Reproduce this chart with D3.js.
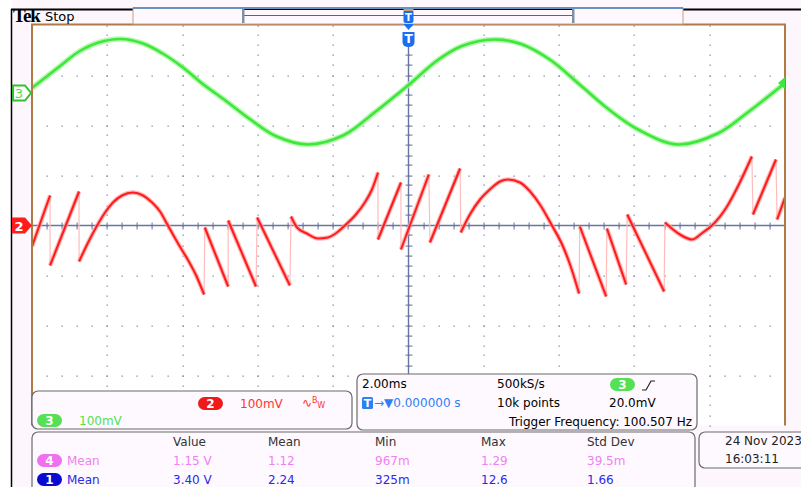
<!DOCTYPE html>
<html>
<head>
<meta charset="utf-8">
<script src="https://cdn.jsdelivr.net/npm/d3@7/dist/d3.min.js"></script>
<style>
body { margin: 0; background: #fdf7fd; }
svg { display: block; }
text { font-family: "DejaVu Sans", sans-serif; font-size: 12px; }
</style>
</head>
<body>
<svg id="scope" width="801" height="487"></svg>
<script>
// ch3 (green) samples: [time ms, mV]
const ch3Points = [
    [-10.0, 10], [-9.27, 53], [-8.75, 83], [-8.23, 101], [-7.64, 108], [-7.05, 99],
    [-6.53, 79], [-5.99, 51], [-5.48, 19], [-4.83, -17], [-4.18, -54], [-3.53, -86],
    [-2.68, -103], [-1.71, -84], [-0.92, -40], [0, 16], [0.78, 66], [1.42, 94],
    [2.27, 107], [2.99, 98], [3.77, 66], [4.56, 16], [5.34, -34], [6.12, -74],
    [7.16, -103], [8.21, -81], [8.99, -40], [10.0, 20]
];

// ch2 (red) pieces between the jumps: [time ms, mV]
const ch2Segments = [
    [[-10.0, -42], [-9.52, 60]],
    [[-9.52, -80], [-8.75, 68]],
    [[-8.75, -72], [-8.51, -34], [-8.27, 0], [-8.06, 26], [-7.85, 46], [-7.61, 60], [-7.32, 66],
     [-7.05, 60], [-6.81, 46], [-6.60, 28], [-6.39, 0], [-6.12, -36], [-5.85, -70], [-5.64, -100],
     [-5.43, -138]],
    [[-5.41, -4], [-4.79, -122]],
    [[-4.79, 10], [-4.05, -122]],
    [[-4.02, 16], [-3.15, -120]],
    [[-3.12, 18], [-2.96, -4], [-2.70, -16], [-2.40, -26], [-2.14, -24], [-1.90, -14], [-1.69, 0],
     [-1.42, 20], [-1.16, 46], [-0.97, 72], [-0.81, 106]],
    [[-0.81, -28], [-0.20, 86]],
    [[-0.20, -48], [0.54, 102]],
    [[0.57, -34], [1.37, 114]],
    [[1.39, -14], [1.63, 22], [1.90, 52], [2.16, 72], [2.43, 88], [2.64, 92], [2.96, 86],
     [3.23, 68], [3.49, 42], [3.81, 0], [4.08, -38], [4.29, -78], [4.53, -136]],
    [[4.55, -2], [5.25, -142]],
    [[5.27, -6], [5.78, -118]],
    [[5.81, 22], [6.79, -132]],
    [[6.81, 6], [7.21, -18], [7.53, -28], [7.82, -14], [8.06, 0], [8.46, 38], [8.80, 86], [9.12, 138]],
    [[9.15, 22], [9.76, 132]],
    [[9.79, 12], [10.0, 56]]
];

const timeDomain = [-10, 10];     // 2.00 ms/div, 10 div
const divDomain = [-4, 4];        // 8 vertical div
const ch2Offset = 0, ch3Offset = 2.65;   // div
const voltsPerDiv = 100;          // mV
const trigLevel = 20;             // mV

const measHeaders = ["Value", "Mean", "Min", "Max", "Std Dev"];
const meas4Values = ["1.15 V", "1.12", "967m", "1.29", "39.5m"];
const meas1Values = ["3.40 V", "2.24", "325m", "12.6", "1.66"];
const dateLines = ["24 Nov 2023", "16:03:11"];

const svg = d3.select("#scope");
const area = { left: 32, right: 785, top: 25.5, bottom: 425.5 };

const scX = d3.scaleLinear().domain(timeDomain).range([area.left, area.right]);
const scDiv = d3.scaleLinear().domain(divDomain).range([area.bottom, area.top]);
const y2 = v => scDiv(ch2Offset + v / voltsPerDiv);
const y3 = v => scDiv(ch3Offset + v / voltsPerDiv);

function drawFrame() {
    svg.append("rect").attr("width", 12).attr("height", 487).attr("fill", "#ffffff");
    svg.append("line").attr("x1", 11.5).attr("x2", 11.5).attr("y1", 9).attr("y2", 487)
        .attr("stroke", "#000").attr("stroke-width", 1.5);

    svg.append("rect")
        .attr("x", area.left).attr("y", area.top)
        .attr("width", area.right - area.left).attr("height", area.bottom - area.top)
        .attr("fill", "#ffffff");

    svg.append("defs").append("clipPath").attr("id", "clip")
        .append("rect")
        .attr("x", area.left).attr("y", area.top)
        .attr("width", area.right - area.left).attr("height", area.bottom - area.top);
}

function drawGrid() {
    const g = svg.append("g").attr("fill", "#8088aa");
    let dots = [];
    // vertical dotted division lines
    d3.range(-8, 10, 2).forEach(t => {
        d3.range(-4, 4.01, 0.2).forEach(d => dots.push([scX(t), scDiv(d)]));
    });
    // horizontal dotted division lines
    d3.range(-3, 4, 1).forEach(d => {
        d3.range(-10, 10.01, 0.4).forEach(t => dots.push([scX(t), scDiv(d)]));
    });
    g.selectAll(".dot").data(dots).enter().append("rect")
        .attr("x", d => Math.round(d[0]) - 0.5).attr("y", d => Math.round(d[1]) - 0.5)
        .attr("width", 1.3).attr("height", 1.3);

    // small ticks along the center axes
    let ticksH = d3.range(-10, 10.01, 0.4);
    g.selectAll(".th").data(ticksH).enter().append("rect")
        .attr("x", d => Math.round(scX(d)) - 0.5).attr("y", scDiv(0) - 3)
        .attr("width", 1.2).attr("height", 7);
    let ticksV = d3.range(-4, 4.01, 0.2);
    g.selectAll(".tv").data(ticksV).enter().append("rect")
        .attr("x", scX(0) - 3).attr("y", d => Math.round(scDiv(d)) - 0.5)
        .attr("width", 7).attr("height", 1.2);

    svg.append("line")
        .attr("x1", area.left).attr("x2", area.right)
        .attr("y1", scDiv(0)).attr("y2", scDiv(0))
        .attr("stroke", "#6676a0").attr("stroke-width", 1.6);
    svg.append("line")
        .attr("x1", scX(0)).attr("x2", scX(0))
        .attr("y1", 46).attr("y2", area.bottom)
        .attr("stroke", "#6676a0").attr("stroke-width", 1.4);
}

function drawTraces() {
    const g = svg.append("g").attr("clip-path", "url(#clip)");

    const line3 = d3.line().x(d => scX(d[0])).y(d => y3(d[1])).curve(d3.curveCatmullRom.alpha(0.5));
    g.append("path").datum(ch3Points)
        .attr("fill", "none").attr("stroke", "#a8f5a0").attr("stroke-width", 5.5)
        .attr("stroke-opacity", 0.8).attr("d", line3);
    g.append("path").datum(ch3Points)
        .attr("fill", "none").attr("stroke", "#3de83a").attr("stroke-width", 2.6)
        .attr("d", line3);

    const line2 = d3.line().x(d => scX(d[0])).y(d => y2(d[1])).curve(d3.curveMonotoneX);

    // faint jumps between pieces
    let jumps = [];
    for (let i = 0; i < ch2Segments.length - 1; i++) {
        jumps.push([ch2Segments[i][ch2Segments[i].length - 1], ch2Segments[i + 1][0]]);
    }
    g.selectAll(".jump").data(jumps).enter().append("line")
        .attr("x1", d => scX(d[0][0])).attr("y1", d => y2(d[0][1]))
        .attr("x2", d => scX(d[1][0])).attr("y2", d => y2(d[1][1]))
        .attr("stroke", "#ffbcbc").attr("stroke-width", 1.2);

    g.selectAll(".halo").data(ch2Segments).enter().append("path")
        .attr("fill", "none").attr("stroke", "#ffa0a0").attr("stroke-width", 4.5)
        .attr("stroke-opacity", 0.75).attr("d", line2);
    g.selectAll(".core").data(ch2Segments).enter().append("path")
        .attr("fill", "none").attr("stroke", "#ff1c1c").attr("stroke-width", 2.1)
        .attr("d", line2);
}

function drawBorderAndMarkers() {
    const brown = "#b07a44";
    svg.append("path")
        .attr("d", `M${area.left},${area.bottom} V${area.top - 1} H${area.right} V${area.bottom}`)
        .attr("fill", "none").attr("stroke", brown).attr("stroke-width", 2);

    // top bar
    svg.append("line").attr("x1", 11).attr("x2", 133).attr("y1", 9.5).attr("y2", 9.5)
        .attr("stroke", "#000").attr("stroke-width", 2);
    svg.append("line").attr("x1", 683).attr("x2", 801).attr("y1", 9.5).attr("y2", 9.5)
        .attr("stroke", "#000").attr("stroke-width", 2);
    svg.append("rect").attr("x", 133).attr("y", 8).attr("width", 550).attr("height", 16)
        .attr("fill", "#fff8ff").attr("stroke", "#c8a080").attr("stroke-width", 1);
    svg.append("line").attr("x1", 133).attr("x2", 683).attr("y1", 8).attr("y2", 8)
        .attr("stroke", "#3f7fc0").attr("stroke-width", 1.5);
    svg.append("line").attr("x1", 243).attr("x2", 573).attr("y1", 9.5).attr("y2", 9.5)
        .attr("stroke", "#000").attr("stroke-width", 1.2);
    svg.append("line").attr("x1", 243).attr("x2", 573).attr("y1", 15.5).attr("y2", 15.5)
        .attr("stroke", "#ff2020").attr("stroke-width", 1);
    [243, 573].forEach(xx => {
        svg.append("rect").attr("x", xx - 1).attr("y", 9).attr("width", 2.5).attr("height", 14)
            .attr("fill", "#8090a8");
    });

    svg.append("text").attr("x", 13).attr("y", 22)
        .style("font-family", "'Liberation Serif', 'DejaVu Serif', serif")
        .style("font-weight", "bold").style("font-size", "19px")
        .style("letter-spacing", "-1px").text("Tek");
    svg.append("text").attr("x", 45).attr("y", 21).style("font-size", "13px").text("Stop");

    // trigger position markers
    const tx = scX(0);
    svg.append("rect").attr("x", tx - 5).attr("y", 10).attr("width", 10).attr("height", 13)
        .attr("rx", 2).attr("fill", "#1a6ff0");
    svg.append("rect").attr("x", tx - 5).attr("y", 9).attr("width", 10).attr("height", 2)
        .attr("fill", "#d0a060");
    svg.append("text").attr("x", tx).attr("y", 21).attr("text-anchor", "middle")
        .style("font-size", "10px").style("font-weight", "bold").attr("fill", "#fff").text("T");
    svg.append("path").attr("d", `M${tx - 5},24 L${tx + 5},24 L${tx},30 Z`).attr("fill", "#1a6ff0");
    svg.append("path")
        .attr("d", `M${tx - 6},32 H${tx + 6} V42 Q${tx + 6},47 ${tx},47 Q${tx - 6},47 ${tx - 6},42 Z`)
        .attr("fill", "#1a6ff0");
    svg.append("text").attr("x", tx).attr("y", 43).attr("text-anchor", "middle")
        .style("font-size", "12px").style("font-weight", "bold").attr("fill", "#fff").text("T");

    // channel ground markers
    const m2 = y2(0), m3 = y3(0);
    svg.append("path")
        .attr("d", `M12,${m2 - 8} H25 L32,${m2} L25,${m2 + 8} H12 Z`).attr("fill", "#ff1c1c");
    svg.append("text").attr("x", 19).attr("y", m2 + 5).attr("text-anchor", "middle")
        .style("font-size", "13px").style("font-weight", "bold").attr("fill", "#fff").text("2");
    svg.append("path")
        .attr("d", `M13,${m3 - 7.5} H25 L31,${m3} L25,${m3 + 7.5} H13 Z`)
        .attr("fill", "#fff").attr("stroke", "#2fc42f").attr("stroke-width", 2);
    svg.append("text").attr("x", 19).attr("y", m3 + 5).attr("text-anchor", "middle")
        .style("font-size", "13px").attr("fill", "#4be04b").text("3");

    // trigger level on ch3
    const tl = y3(trigLevel);
    svg.append("path").attr("d", `M778,${tl} L785,${tl - 6} L785,${tl + 6} Z`).attr("fill", "#3de83a");
}

function badge(x, y, label, fill) {
    svg.append("rect").attr("x", x).attr("y", y).attr("width", 25).attr("height", 13)
        .attr("rx", 6.5).attr("fill", fill);
    svg.append("text").attr("x", x + 12.5).attr("y", y + 11).attr("text-anchor", "middle")
        .style("font-weight", "bold").attr("fill", "#fff").text(label);
}

function panel(x, y, w, h) {
    svg.append("rect").attr("x", x).attr("y", y).attr("width", w).attr("height", h)
        .attr("rx", 6).attr("fill", "#fef9fe").attr("stroke", "#6a6a6a").attr("stroke-width", 1.2);
}

function drawPanels() {
    const red = "#ff3434", green = "#52e052", blue = "#2f7ff5";

    // channel settings
    panel(32, 391, 320, 38);
    badge(198, 397, "2", "#f01818");
    svg.append("text").attr("x", 240).attr("y", 408).attr("fill", red).text("100mV");
    const bw = svg.append("text").attr("x", 302).attr("y", 407).attr("fill", red);
    bw.append("tspan").text("∿");
    bw.append("tspan").attr("dy", -4).style("font-size", "8px").text("B");
    bw.append("tspan").attr("dy", 5).style("font-size", "8px").text("W");
    badge(37, 414, "3", "#55e055");
    svg.append("text").attr("x", 79).attr("y", 425).attr("fill", green).text("100mV");

    // timebase / trigger
    panel(357, 374, 340, 56);
    svg.append("text").attr("x", 362).attr("y", 388).text("2.00ms");
    svg.append("text").attr("x", 497).attr("y", 388).text("500kS/s");
    badge(610, 378, "3", "#55e055");
    svg.append("path").attr("d", "M642,390 H646 L651,381 H655").attr("fill", "none")
        .attr("stroke", "#222").attr("stroke-width", 1.2);
    svg.append("rect").attr("x", 362).attr("y", 397).attr("width", 11).attr("height", 12)
        .attr("rx", 1.5).attr("fill", blue);
    svg.append("text").attr("x", 367.5).attr("y", 407).attr("text-anchor", "middle")
        .style("font-weight", "bold").style("font-size", "11px").attr("fill", "#fff").text("T");
    svg.append("text").attr("x", 374).attr("y", 407).attr("fill", blue).text("→▼0.000000 s");
    svg.append("text").attr("x", 497).attr("y", 407).text("10k points");
    svg.append("text").attr("x", 609).attr("y", 407).text("20.0mV");
    svg.append("text").attr("x", 692).attr("y", 426).attr("text-anchor", "end")
        .text("Trigger Frequency: 100.507 Hz");

    // measurements
    panel(32, 432, 663, 70);
    const cols = [173, 268, 375, 481, 587];
    measHeaders.forEach((h, i) => {
        svg.append("text").attr("x", cols[i]).attr("y", 446).attr("fill", "#333").text(h);
    });
    const rows = [
        { ch: "4", fill: "#f070f0", color: "#f080f0", values: meas4Values, y: 465 },
        { ch: "1", fill: "#0a0ad0", color: "#2a2ae8", values: meas1Values, y: 484 }
    ];
    rows.forEach(r => {
        badge(37, r.y - 11, r.ch, r.fill);
        svg.append("text").attr("x", 67).attr("y", r.y).attr("fill", r.color).text("Mean");
        r.values.forEach((v, i) => {
            svg.append("text").attr("x", cols[i]).attr("y", r.y).attr("fill", r.color).text(v);
        });
    });

    // date
    panel(699, 432, 120, 36);
    dateLines.forEach((s, i) => {
        svg.append("text").attr("x", 725).attr("y", 445 + i * 18).attr("fill", "#222").text(s);
    });
}

drawFrame();
drawGrid();
drawTraces();
drawBorderAndMarkers();
drawPanels();
</script>
</body>
</html>
